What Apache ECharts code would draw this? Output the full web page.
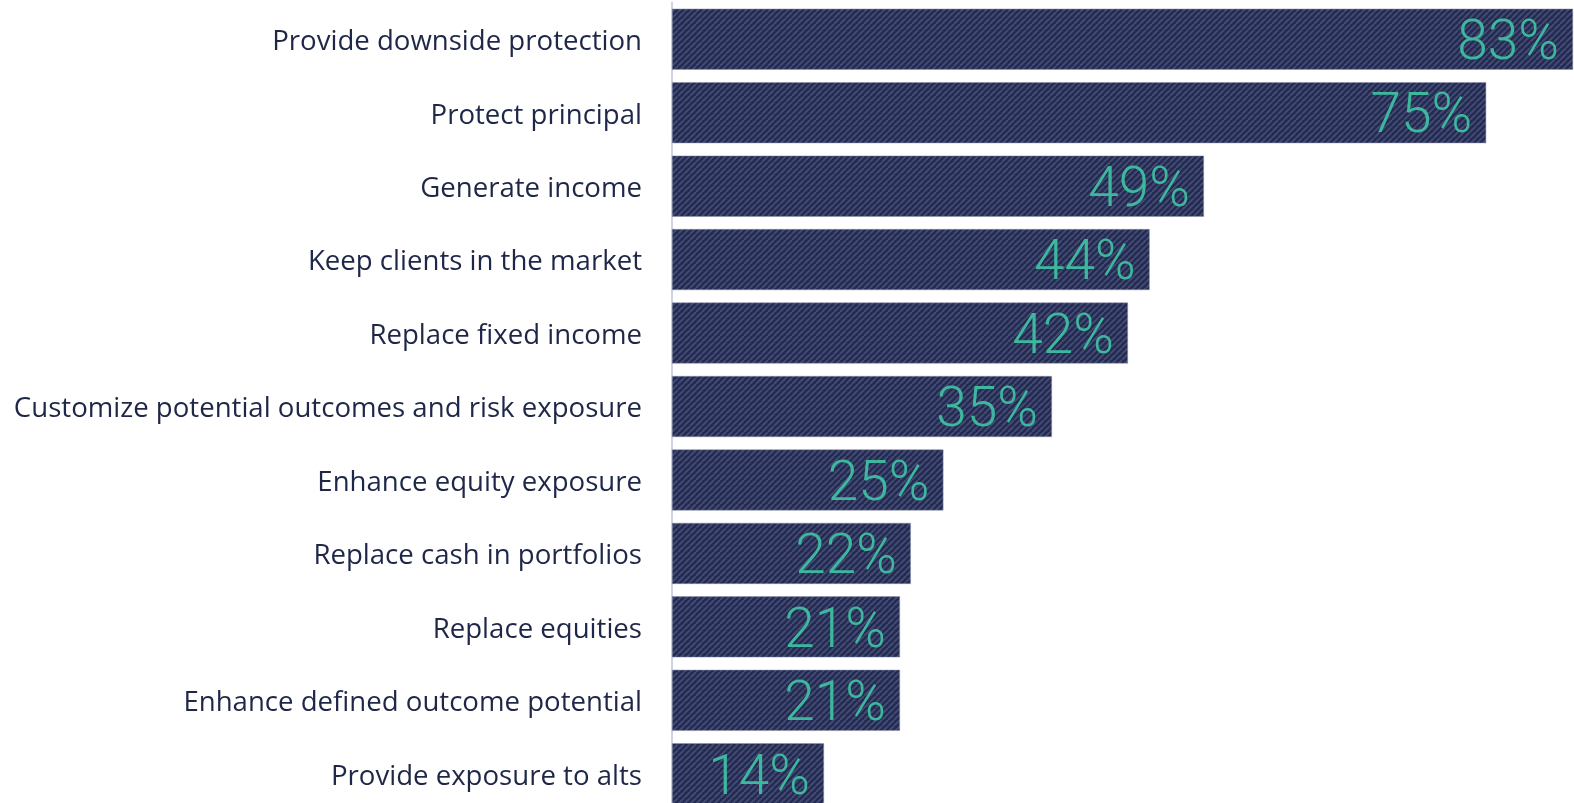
<!DOCTYPE html>
<html>
<head>
<meta charset="utf-8">
<script src="https://cdn.jsdelivr.net/npm/echarts@6/dist/echarts.min.js"></script>
<style>
  html, body { margin: 0; padding: 0; background: #ffffff; }
  #chart { width: 1574px; height: 803px; }
</style>
</head>
<body>
<div id="chart"></div>
<script>
// Reasons for using the strategy (share of respondents, %)
const categories = [
  'Provide downside protection',
  'Protect principal',
  'Generate income',
  'Keep clients in the market',
  'Replace fixed income',
  'Customize potential outcomes and risk exposure',
  'Enhance equity exposure',
  'Replace cash in portfolios',
  'Replace equities',
  'Enhance defined outcome potential',
  'Provide exposure to alts'
];
const values = [83, 75, 49, 44, 42, 35, 25, 22, 21, 21, 14];
const valueMax = 83;

// Diagonal carbon-stripe fill for the bars
function stripePattern() {
  const size = 6;
  const c = document.createElement('canvas');
  c.width = size; c.height = size;
  const ctx = c.getContext('2d');
  ctx.fillStyle = '#232a4d';
  ctx.fillRect(0, 0, size, size);
  ctx.strokeStyle = '#424b75';
  ctx.lineWidth = 2;
  ctx.beginPath();
  for (let k = -size; k <= size * 2; k += size) {
    ctx.moveTo(k, size);
    ctx.lineTo(k + size, 0);
  }
  ctx.stroke();
  return c;
}

const chart = echarts.init(document.getElementById('chart'), null, { renderer: 'canvas' });
chart.setOption({
  animation: false,
  // the last row runs slightly past the bottom edge of the canvas
  grid: {
    left: 672, right: 1, top: 2.5, height: 808,
    containLabel: false,
    outerBoundsMode: 'none'
  },
  xAxis: {
    type: 'value',
    min: 0,
    max: valueMax,
    show: false
  },
  yAxis: {
    type: 'category',
    data: categories,
    inverse: true,
    axisLine: { show: true, lineStyle: { color: '#cdd4e6', width: 2 } },
    axisTick: { show: false },
    axisLabel: {
      margin: 30,
      formatter: (v) => '{t|' + v + '}',
      rich: {
        t: {
          padding: [6, 0, 0, 0],
          fontFamily: 'Open Sans',
          fontSize: 27.6,
          color: '#1e2748'
        }
      }
    }
  },
  series: [{
    type: 'bar',
    data: values,
    barWidth: 61,
    itemStyle: {
      color: { image: stripePattern(), repeat: 'repeat' },
      borderColor: '#8a90ab',
      borderWidth: 0.5
    },
    label: {
      show: true,
      position: 'insideRight',
      distance: 14,
      offset: [0, 6],
      formatter: '{c}%',
      fontFamily: 'Roboto',
      fontWeight: 300,
      fontSize: 55,
      color: '#3db89e'
    }
  }]
});
</script>
</body>
</html>
